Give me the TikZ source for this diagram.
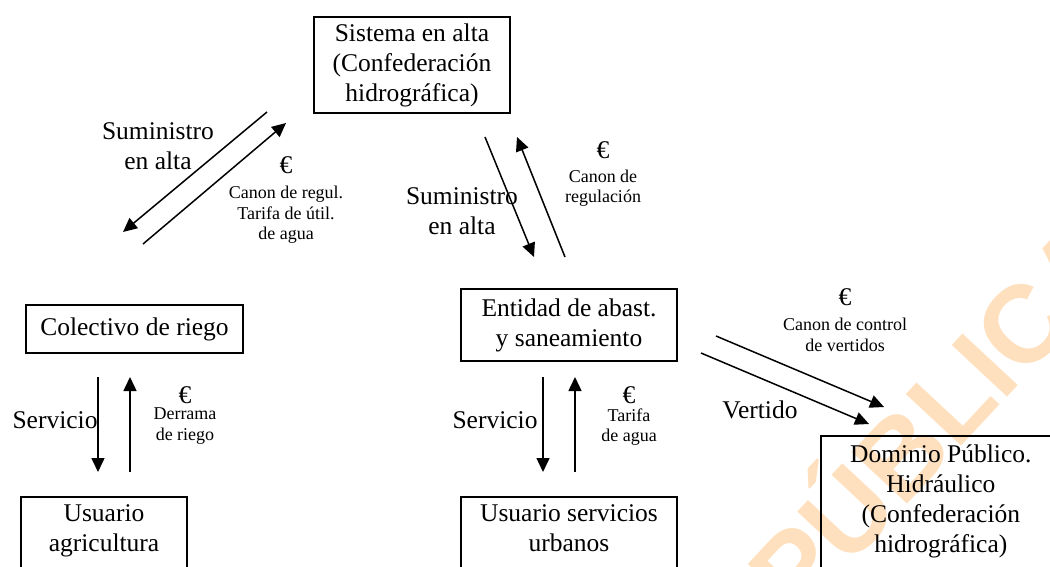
\documentclass[tikz,border=0pt]{standalone}
\usepackage{fontspec}
\setmainfont{Liberation Serif}
\newfontfamily\marcafont{Liberation Sans}
\usetikzlibrary{arrows.meta}
\definecolor{marcanaranja}{RGB}{255,224,190}

\begin{document}
\begin{tikzpicture}[x=1pt,y=-1pt]
	\tikzset{caja/.style = {draw, line width=1.6pt, align=center, inner sep=0pt,
			font=\fontsize{25.5}{30}\selectfont}}
	\tikzset{etiqueta/.style = {align=center, font=\fontsize{25.5}{30}\selectfont}}
	\tikzset{nota/.style = {align=center, font=\fontsize{18}{20.5}\selectfont}}
	\tikzset{euro/.style = {font=\fontsize{25.5}{30}\selectfont}}
	\tikzset{flecha/.style = {-{Triangle[length=14pt,width=13pt]}, line width=1.5pt}}
	\tikzset{marca/.style = {text=marcanaranja, font=\marcafont\bfseries\fontsize{110}{110}\selectfont}}
	\useasboundingbox (0,0) rectangle (1050,566);
	% watermark
	\node[marca, rotate=47] (marca) at (930,410) {PÚBLICA};
	% boxes
	\node[caja, minimum width=196pt, minimum height=96pt] (sistema) at (412,65) {Sistema en alta\\(Confederación\\hidrográfica)};
	\node[caja, minimum width=217pt, minimum height=48pt] (colectivo) at (134.5,329) {Colectivo de riego};
	\node[caja, minimum width=216pt, minimum height=72pt] (entidad) at (569,325) {Entidad de abast.\\y saneamiento};
	\node[caja, minimum width=166pt, anchor=north, text height=51pt, text depth=60pt, inner ysep=4pt] (agricultura) at (104,496) {Usuario\\agricultura};
	\node[caja, minimum width=216pt, anchor=north, text height=51pt, text depth=60pt, inner ysep=4pt] (urbanos) at (569,496) {Usuario servicios\\urbanos};
	\node[caja, minimum width=240pt, anchor=north west, text height=113pt, text depth=60pt, inner ysep=4pt] (dominio) at (820,435) {Dominio Público.\\Hidráulico\\(Confederación\\hidrográfica)};
	% arrow ends
	\coordinate (a1) at (267,112); \coordinate (a2) at (123,232);
	\coordinate (a3) at (143,244); \coordinate (a4) at (286,123);
	\coordinate (b1) at (485,137); \coordinate (b2) at (534,257);
	\coordinate (b3) at (565,257); \coordinate (b4) at (517,137);
	\coordinate (c1) at (98,377);  \coordinate (c2) at (98,472);
	\coordinate (c3) at (130,472); \coordinate (c4) at (130,377);
	\coordinate (d1) at (543,377); \coordinate (d2) at (543,472);
	\coordinate (d3) at (575,472); \coordinate (d4) at (575,377);
	\coordinate (e1) at (716,336); \coordinate (e2) at (884,407);
	\coordinate (e3) at (701,353); \coordinate (e4) at (869,424);
	% arrows
	\draw[flecha] (a1) -- (a2);
	\draw[flecha] (a3) -- (a4);
	\draw[flecha] (b1) -- (b2);
	\draw[flecha] (b3) -- (b4);
	\draw[flecha] (c1) -- (c2);
	\draw[flecha] (c3) -- (c4);
	\draw[flecha] (d1) -- (d2);
	\draw[flecha] (d3) -- (d4);
	\draw[flecha] (e1) -- (e2);
	\draw[flecha] (e3) -- (e4);
	% labels
	\node[etiqueta] (suministroA) at (158,146) {Suministro\\en alta};
	\node[etiqueta] (suministroB) at (462,211) {Suministro\\en alta};
	\node[etiqueta] (servicioA) at (55,420) {Servicio};
	\node[etiqueta] (servicioB) at (495,420) {Servicio};
	\node[etiqueta] (vertido) at (760,410) {Vertido};
	\node[euro] (euroA) at (286,165) {€};
	\node[euro] (euroB) at (603,150) {€};
	\node[euro] (euroC) at (185,395) {€};
	\node[euro] (euroD) at (629,395) {€};
	\node[euro] (euroE) at (845,297) {€};
	\node[nota] (canonA) at (286,215) {Canon de regul.\\Tarifa de útil.\\de agua};
	\node[nota] (canonB) at (603,188) {Canon de\\regulación};
	\node[nota] (derrama) at (185,426) {Derrama\\de riego};
	\node[nota] (tarifa) at (629,427) {Tarifa\\de agua};
	\node[nota] (control) at (845,335) {Canon de control\\de vertidos};
\end{tikzpicture}
\end{document}
